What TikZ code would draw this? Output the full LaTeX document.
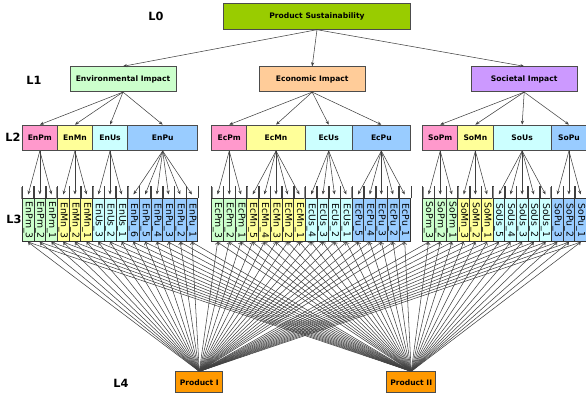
\documentclass[tikz,border=0pt]{standalone}
\usepackage{fontspec}
\setmainfont{DejaVu Sans}
\usetikzlibrary{arrows.meta,positioning}
\definecolor{sustgreen}{RGB}{153,204,0}
\definecolor{envgreen}{RGB}{204,255,204}
\definecolor{ecoorange}{RGB}{255,204,153}
\definecolor{socviolet}{RGB}{204,153,255}
\definecolor{pmpink}{RGB}{255,153,204}
\definecolor{mnyellow}{RGB}{255,255,153}
\definecolor{uscyan}{RGB}{204,255,255}
\definecolor{publue}{RGB}{153,204,255}
\definecolor{prodorange}{RGB}{255,153,0}
\newcommand{\pxl}{0.75pt}

\begin{document}
\begin{tikzpicture}[x=0.75pt, y=-0.75pt, >={Stealth[length=3pt,width=2.4pt]},
    box/.style={rectangle, draw=black!70, line width=0.6pt, inner sep=0pt, minimum height=25*\pxl, font=\fontsize{5.7}{6.5}\selectfont\bfseries},
    impact/.style={box, minimum width=106*\pxl},
    crit/.style={box, minimum height=25.5*\pxl},
    cell/.style={rectangle, draw=black!80, line width=0.5pt, inner sep=0pt, minimum width=11.7*\pxl, minimum height=43*\pxl, font=\fontsize{7}{8}\selectfont},
    prod/.style={box, fill=prodorange, minimum height=21*\pxl},
    lvl/.style={font=\fontsize{8.5}{9}\selectfont\bfseries},
    link/.style={draw=black!75, line width=0.4pt},
    feed/.style={link, -{Straight Barb[length=1.6pt,width=3pt]}}]
    \useasboundingbox (0,0) rectangle (586,396);

    % levels
    \node[lvl] (lzero)  at (156,16.7) {L0};
    \node[lvl] (lone)   at (34,80)    {L1};
    \node[lvl] (ltwo)   at (13,137)   {L2};
    \node[lvl] (lthree) at (14,219)   {L3};
    \node[lvl] (lfour)  at (121,383)  {L4};

    % goal and impacts
    \node[box, fill=sustgreen, minimum width=187*\pxl, minimum height=26*\pxl] (sust) at (317,16.3) {Product Sustainability};
    \node[impact, fill=envgreen]  (env) at (123,79.2)   {Environmental Impact};
    \node[impact, fill=ecoorange] (eco) at (312.2,79.2) {Economic Impact};
    \node[impact, fill=socviolet] (soc) at (524.2,79.2) {Societal Impact};

    % products
    \node[prod, minimum width=47*\pxl] (p1) at (199.3,382.3) {Product I};
    \node[prod, minimum width=49*\pxl] (p2) at (411.2,382.3) {Product II};

    \path[->]   (sust.south) edge[link] (env.north)
                (sust.south) edge[link] (eco.north)
                (sust.south) edge[link] (soc.north);

    % criteria and their indicators
    \foreach \p/\g/\lab/\n/\x/\fa/\fb in {
        env/enpm/EnPm/3/22.3/pmpink/envgreen, env/enmn/EnMn/3/57.4/mnyellow/mnyellow,
        env/enus/EnUs/3/92.5/uscyan/uscyan, env/enpu/EnPu/6/127.6/publue/publue,
        eco/ecpm/EcPm/3/211.7/pmpink/envgreen, eco/ecmn/EcMn/5/246.8/mnyellow/mnyellow,
        eco/ecus/EcUs/4/305.3/uscyan/uscyan, eco/ecpu/EcPu/5/352.1/publue/publue,
        soc/sopm/SoPm/3/422.7/pmpink/envgreen, soc/somn/SoMn/3/457.8/mnyellow/mnyellow,
        soc/sous/SoUs/5/492.9/uscyan/uscyan, soc/sopu/SoPu/3/551.4/publue/publue}
    {
        \pgfmathsetmacro\w{\n*11.7}
        \pgfmathsetmacro\xc{\x+\w/2}
        \node[crit, fill=\fa, minimum width=\w*\pxl] (\g) at (\xc,137.8) {\lab};
        \draw[->, link] (\p.south) -- (\g.north);
        \draw[line width=1.5pt, black!45] (\x,187) -- (\x,198.8);
        \foreach \k in {1,...,\n} {
            \pgfmathsetmacro\cx{\x+(\k-0.5)*11.7}
            \pgfmathtruncatemacro\m{\n-\k+1}
            \node[cell, fill=\fb] (\g-\k) at (\cx,220.3) {\rotatebox{-90}{\lab\_\m}};
            \coordinate (\g-\k-t) at (\cx,194.5);
            \draw[link] (\g-\k.north west) -- ++(0,-12) (\g-\k.north east) -- ++(0,-12);
            \draw[->, link] (\g.south) -- (\g-\k-t);
            \draw[feed] (p1.north) -- (\g-\k.south);
            \draw[feed] (p2.north) -- (\g-\k.south);
        }
    }
\end{tikzpicture}
\end{document}
